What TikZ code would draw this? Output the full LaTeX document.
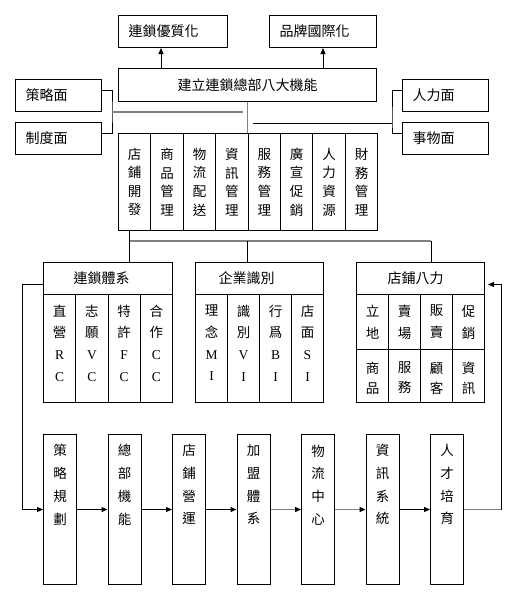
\documentclass[tikz,border=0pt]{standalone}
\usepackage{fontspec}
\setmainfont{Noto Sans CJK TC}
\newfontfamily\latinfont{Liberation Serif}
\usetikzlibrary{arrows.meta, positioning, calc}

\newcommand{\hdfont}{\fontsize{14}{16}\selectfont}

\tikzset{
  box/.style={draw, line width=1pt, inner sep=0pt, anchor=north west},
  padbox/.style={box, minimum height=32pt, align=left, font=\hdfont},
  sidebox/.style={padbox, text width=66pt, inner xsep=10pt},
  funcbox/.style={box, minimum width=32.4pt, minimum height=97pt, align=center,
                  font=\fontsize{13.5}{18.6}\selectfont},
  colbox/.style={box, minimum width=32.25pt, minimum height=108pt},
  coltext/.style={align=center, inner sep=0pt, font=\fontsize{13.5}{21.7}\selectfont},
  cellbox/.style={box, minimum width=32pt},
  celltext/.style={align=center, inner sep=0pt, font=\fontsize{13.5}{#1}\selectfont},
  procbox/.style={box, minimum width=33pt, minimum height=150pt},
  proctext/.style={align=center, inner sep=0pt, font=\fontsize{13.5}{22.7}\selectfont},
  arr/.style={-{Triangle[length=6pt, width=5pt, color=black]}, line width=1pt},
  grayline/.style={draw=black!50, line width=1.3pt}
}

\begin{document}
\begin{tikzpicture}[x=1pt, y=-1pt]
\useasboundingbox (0,0) rectangle (517,605);

% ---- Top: goals and headquarters --------------------------------------
\node[sidebox, text width=89pt] (quality) at (118,15) {連鎖優質化};
\node[sidebox, text width=87pt] (intl)    at (269,15) {品牌國際化};
\node[box, minimum width=258pt, minimum height=33pt, font=\hdfont] (hq) at (118,68)
     {建立連鎖總部八大機能};

\draw[arr] ([xshift=43pt]quality.south west |- hq.north) -- ([xshift=43pt]quality.south west);
\draw[arr] (intl.south |- hq.north) -- (intl.south);

% ---- Side aspects -------------------------------------------------------
\node[sidebox] (strategy) at (15,79)  {策略面};
\node[sidebox] (system)   at (15,122) {制度面};
\node[sidebox] (people)   at (402,79) {人力面};
\node[sidebox] (affairs)  at (402,122) {事物面};

\coordinate (lj) at (112,112);
\coordinate (rj) at (392,123);
\draw[line width=1pt] ([yshift=5pt]strategy.east) -| (lj) |- ([yshift=5pt]system.east);
\draw[line width=1pt] ([yshift=5pt]people.west) -| (rj) |- ([yshift=5pt]affairs.west);

% ---- Eight functions ----------------------------------------------------
\foreach \t [count=\i from 0] in {{店\\鋪\\開\\發},{商\\品\\管\\理},{物\\流\\配\\送},
    {資\\訊\\管\\理},{服\\務\\管\\理},{廣\\宣\\促\\銷},{人\\力\\資\\源},{財\\務\\管\\理}}
  \node[funcbox] (f\i) at ({118+32.4*\i},133) {\t};

\draw[grayline] (hq.south) -- (hq.south |- f0.north);
\draw[grayline] (lj) -- ([xshift=-5pt]lj -| hq.south);
\draw[line width=1pt] (rj) -- ([xshift=5pt]rj -| hq.south);

% ---- Three systems ------------------------------------------------------
\node[padbox, text width=69pt, inner xsep=30pt] (chain) at (43,262)  {連鎖體系};
\node[padbox, text width=82pt, inner xsep=23pt] (cis)   at (195,262) {企業識別};
\node[padbox, text width=66pt, inner xsep=31pt] (power) at (356,262) {店鋪八力};

\foreach \t [count=\i from 0] in {{直\\營\\{\latinfont R}\\{\latinfont C}},
    {志\\願\\{\latinfont V}\\{\latinfont C}},{特\\許\\{\latinfont F}\\{\latinfont C}},
    {合\\作\\{\latinfont C}\\{\latinfont C}}}
  \node[colbox, label={[coltext, yshift=5.5pt]center:{\t}}] (ch\i) at ({43+32.25*\i},294) {};

\foreach \t [count=\i from 0] in {{理\\念\\{\latinfont M}\\{\latinfont I}},
    {識\\別\\{\latinfont V}\\{\latinfont I}},{行\\爲\\{\latinfont B}\\{\latinfont I}},
    {店\\面\\{\latinfont S}\\{\latinfont I}}}
  \node[colbox, minimum width=32pt, label={[coltext, yshift=5.5pt]center:{\t}}] (ci\i) at ({195+32*\i},294) {};

\foreach \t/\u [count=\i from 0] in {{立\\地}/{商\\品},{賣\\場}/{服\\務},{販\\賣}/{顧\\客},{促\\銷}/{資\\訊}}{
  \node[cellbox, minimum height=55pt, label={[celltext=22]center:{\t}}] (pa\i) at ({356+32*\i},294) {};
  \node[cellbox, minimum height=53pt, label={[celltext=20, yshift=-2pt]center:{\u}}] (pb\i) at ({356+32*\i},349) {};
}

\coordinate (b1) at (129.5,241);
\coordinate (b2) at (247,241);
\coordinate (b3) at (431,241);
\draw[line width=1pt] (b1 |- f0.south) -- (b1 |- chain.north);
\draw[grayline] (b1) -- (b3);
\draw[line width=1pt] (b2) -- (b2 |- cis.north);
\draw[line width=1pt] (b3) -- (b3 |- power.north);

% ---- Process chain ------------------------------------------------------
\foreach \t [count=\i] in {{策\\略\\規\\劃},{總\\部\\機\\能},{店\\鋪\\營\\運},{加\\盟\\體\\系},
    {物\\流\\中\\心},{資\\訊\\系\\統},{人\\才\\培\\育}}
  \node[procbox, label={[proctext, yshift=24.7pt]center:{\t}}] (p\i) at ({43+64.5*(\i-1)},434) {};

\foreach \i/\j in {1/2,2/3,3/4,6/7}
  \draw[arr] (p\i.east) -- (p\j.west);
\foreach \i/\j in {4/5,5/6}
  \draw[arr, grayline] (p\i.east) -- (p\j.west);

% loops back to the systems
\draw[arr] ([yshift=-6pt]chain.west) -- ++(-21,0) |- (p1.west);
\draw[grayline] (p7.east) -- ++(37,0) coordinate (rl);
\draw[arr, shorten >=3pt] (rl) |- ([yshift=-6pt]power.east);

\end{tikzpicture}
\end{document}
